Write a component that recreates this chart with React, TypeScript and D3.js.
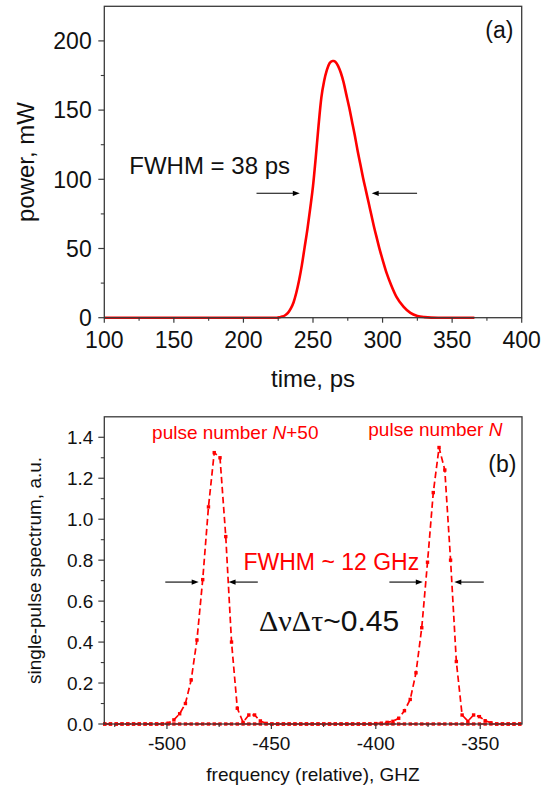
import React from "react";
import * as d3 from "d3";

// ---------- Panel (a): temporal pulse ----------
const timePs = [100,150,200,220,224,226,228,230,232,234,236,238,240,242,244,246,248,250,252,254,256,258,260,262,264,265,266,268,270,272,274,276,278,280,282,284,286,288,290,292,294,296,298,300,303,306,310,315,320,325,330,335,340,366];
const powerMw = [0,0,0,0,0,0.3,0.8,1.8,3.5,6.5,11,18,27,38,51,64,79,95,116,139,159,171,179,184,185.5,185.5,185,182,177,170,161,152,142,132,121,111,101,92,83,74,65,57,49,42,32,24,15,8,3.5,1.3,0.4,0.05,0,0];
const timeTicks = [100,150,200,250,300,350,400];
const timeMinor = [125,175,225,275,325,375];
const powerTicks = [0,50,100,150,200];
const powerMinor = [25,75,125,175];

// ---------- Panel (b): spectra ----------
const freqGrid = d3.range(73).map((i) => -529.8 + i * 2.76); // spectrometer sampling grid, GHz
const spectrumN50 = [
  0,0,0,0,0,0,0,0,0,0,0,
  0.004,0.02,0.05,0.10,0.215,0.41,0.705,1.06,1.325,1.30,0.915,0.40,0.077,0.008,0.044,0.044,0.015,0.003,
  0,0,0,0,0,0,0,0,0,0,0,0,0,0,0,0,0,0,0,0,0,0,0,0,0,0,0,0,0,0,0,0,0,0,0,0,0,0,0,0,0,0,0,0,
];
const spectrumN = [
  0,0,0,0,0,0,0,0,0,0,0,0,0,0,0,0,0,0,0,0,0,0,0,0,0,0,0,0,0,0,0,0,0,0,0,0,0,0,0,0,0,0,0,0,0,0,0,
  0.002,0.004,0.008,0.013,0.028,0.065,0.12,0.25,0.47,0.79,1.13,1.35,1.24,0.80,0.305,0.044,0.014,0.044,0.036,0.016,0.006,
  0,0,0,0,0,
];
const freqTicks = [-500,-450,-400,-350];
const freqMinor = [-525,-475,-425,-375];
const specTicks = [0,0.2,0.4,0.6,0.8,1.0,1.2,1.4];
const specMinor = [0.1,0.3,0.5,0.7,0.9,1.1,1.3];

const SANS = "'Liberation Sans', Arial, sans-serif";
const SERIF = "'Liberation Serif', 'Times New Roman', serif";
const RED = "#ff0000";
const AXIS = "#3a3a3a";

function Arrow({ x1, x2, y }: { x1: number; x2: number; y: number }) {
  const dir = x2 > x1 ? 1 : -1;
  const hl = 7, hw = 2.6;
  return (
    <g>
      <line x1={x1} x2={x2 - dir * hl + dir} y1={y} y2={y} stroke="#000" strokeWidth={1.1} />
      <path d={`M${x2},${y} L${x2 - dir * hl},${y - hw} L${x2 - dir * hl},${y + hw} Z`} fill="#000" />
    </g>
  );
}

export default function App() {
  // Panel (a) scales
  const xa = d3.scaleLinear().domain([100, 400]).range([104.3, 521.7]);
  const ya = d3.scaleLinear().domain([0, 225]).range([317.7, 6.3]);
  const lineA = d3
    .line<number>()
    .x((_, i) => xa(timePs[i]))
    .y((d) => ya(d))
    .curve(d3.curveMonotoneX);

  // Panel (b) scales
  const xb = d3.scaleLinear().domain([-530, -330]).range([104.3, 522]);
  const yb = d3.scaleLinear().domain([0, 1.5]).range([724, 416.8]);
  const lineB = d3
    .line<number>()
    .x((_, i) => xb(freqGrid[i]))
    .y((d) => yb(d));

  const fsA = 23;
  const fsB = 19;

  return (
    <svg
      width={551}
      height={789}
      style={{ position: "absolute", left: 0, top: 0, background: "#fff" }}
      fontFamily={SANS}
    >
      <rect x={0} y={0} width={551} height={789} fill="#fff" />

      {/* ======== Panel (a) ======== */}
      <path d={lineA(powerMw) || ""} fill="none" stroke={RED} strokeWidth={2.6} strokeLinejoin="round" />
      <rect
        x={xa(100)}
        y={ya(225)}
        width={xa(400) - xa(100)}
        height={ya(0) - ya(225)}
        fill="none"
        stroke={AXIS}
        strokeWidth={1.3}
      />
      {timeTicks.map((t) => (
        <g key={"ta" + t}>
          <line x1={xa(t)} x2={xa(t)} y1={ya(0)} y2={ya(0) + 5} stroke={AXIS} strokeWidth={1.2} />
          <text x={xa(t)} y={348.3} textAnchor="middle" fontSize={fsA} fill="#111">
            {t}
          </text>
        </g>
      ))}
      {timeMinor.map((t) => (
        <line key={"tm" + t} x1={xa(t)} x2={xa(t)} y1={ya(0)} y2={ya(0) + 3} stroke={AXIS} strokeWidth={1.1} />
      ))}
      {powerTicks.map((p) => (
        <g key={"pa" + p}>
          <line x1={xa(100) - 6} x2={xa(100)} y1={ya(p)} y2={ya(p)} stroke={AXIS} strokeWidth={1.2} />
          <text x={91.7} y={ya(p) + 0.36 * fsA} textAnchor="end" fontSize={fsA} fill="#111">
            {p}
          </text>
        </g>
      ))}
      {powerMinor.map((p) => (
        <line key={"pm" + p} x1={xa(100) - 3.5} x2={xa(100)} y1={ya(p)} y2={ya(p)} stroke={AXIS} strokeWidth={1.1} />
      ))}
      <text x={313} y={386.7} textAnchor="middle" fontSize={24} fill="#111">
        time, ps
      </text>
      <text
        transform={`translate(33.5,${(ya(0) + ya(225)) / 2}) rotate(-90)`}
        textAnchor="middle"
        fontSize={24}
        fill="#111"
      >
        power, mW
      </text>
      <text x={485.3} y={37.5} fontSize={23} fill="#111">
        (a)
      </text>
      <text x={129.3} y={174} fontSize={24} fill="#111">
        FWHM = 38 ps
      </text>
      <Arrow x1={xa(209.4)} x2={xa(240.5)} y={ya(89.9)} />
      <Arrow x1={xa(324.8)} x2={xa(292.2)} y={ya(89.9)} />

      {/* ======== Panel (b) ======== */}
      {[spectrumN50, spectrumN].map((s, k) => (
        <g key={"s" + k}>
          <path d={lineB(s) || ""} fill="none" stroke={RED} strokeWidth={1.7} strokeDasharray="6.5 3.5" />
          {s.map((v, i) => (
            <rect key={i} x={xb(freqGrid[i]) - 1.7} y={yb(v) - 1.7} width={3.4} height={3.4} fill={RED} />
          ))}
        </g>
      ))}
      <rect
        x={xb(-530)}
        y={yb(1.5)}
        width={xb(-330) - xb(-530)}
        height={yb(0) - yb(1.5)}
        fill="none"
        stroke={AXIS}
        strokeWidth={1.3}
      />
      {freqTicks.map((f) => (
        <g key={"fb" + f}>
          <line x1={xb(f)} x2={xb(f)} y1={yb(0)} y2={yb(0) + 5} stroke={AXIS} strokeWidth={1.2} />
          <text x={xb(f)} y={750} textAnchor="middle" fontSize={fsB} fill="#111">
            {f}
          </text>
        </g>
      ))}
      {freqMinor.map((f) => (
        <line key={"fm" + f} x1={xb(f)} x2={xb(f)} y1={yb(0)} y2={yb(0) + 3} stroke={AXIS} strokeWidth={1.1} />
      ))}
      {specTicks.map((v) => (
        <g key={"sb" + v}>
          <line x1={xb(-530) - 6} x2={xb(-530)} y1={yb(v)} y2={yb(v)} stroke={AXIS} strokeWidth={1.2} />
          <text x={93.3} y={yb(v) + 0.36 * fsB} textAnchor="end" fontSize={fsB} fill="#111">
            {v.toFixed(1)}
          </text>
        </g>
      ))}
      {specMinor.map((v) => (
        <line key={"sm" + v} x1={xb(-530) - 3.5} x2={xb(-530)} y1={yb(v)} y2={yb(v)} stroke={AXIS} strokeWidth={1.1} />
      ))}
      <text x={313} y={781} textAnchor="middle" fontSize={fsB} fill="#111">
        frequency (relative), GHZ
      </text>
      <text
        transform={`translate(41,${(yb(0) + yb(1.5)) / 2}) rotate(-90)`}
        textAnchor="middle"
        fontSize={fsB}
        fill="#111"
      >
        single-pulse spectrum, a.u.
      </text>
      <text x={152.1} y={439.3} fontSize={19} fill={RED}>
        pulse number <tspan fontStyle="italic">N</tspan>+50
      </text>
      <text x={368.3} y={436} fontSize={19} fill={RED}>
        pulse number <tspan fontStyle="italic">N</tspan>
      </text>
      <text x={488.3} y={472} fontSize={23} fill="#111">
        (b)
      </text>
      <text x={243.5} y={570} fontSize={23} fill={RED}>
        FWHM ~ 12 GHz
      </text>
      <text x={259} y={631} fontSize={30} fill="#111">
        <tspan fontFamily={SERIF}>ΔνΔτ</tspan>
        <tspan>~0.45</tspan>
      </text>
      <Arrow x1={xb(-500.8)} x2={xb(-484.8)} y={yb(0.693)} />
      <Arrow x1={xb(-456.5)} x2={xb(-470.5)} y={yb(0.693)} />
      <Arrow x1={xb(-393.5)} x2={xb(-377.5)} y={yb(0.693)} />
      <Arrow x1={xb(-348.3)} x2={xb(-362.4)} y={yb(0.693)} />
    </svg>
  );
}
